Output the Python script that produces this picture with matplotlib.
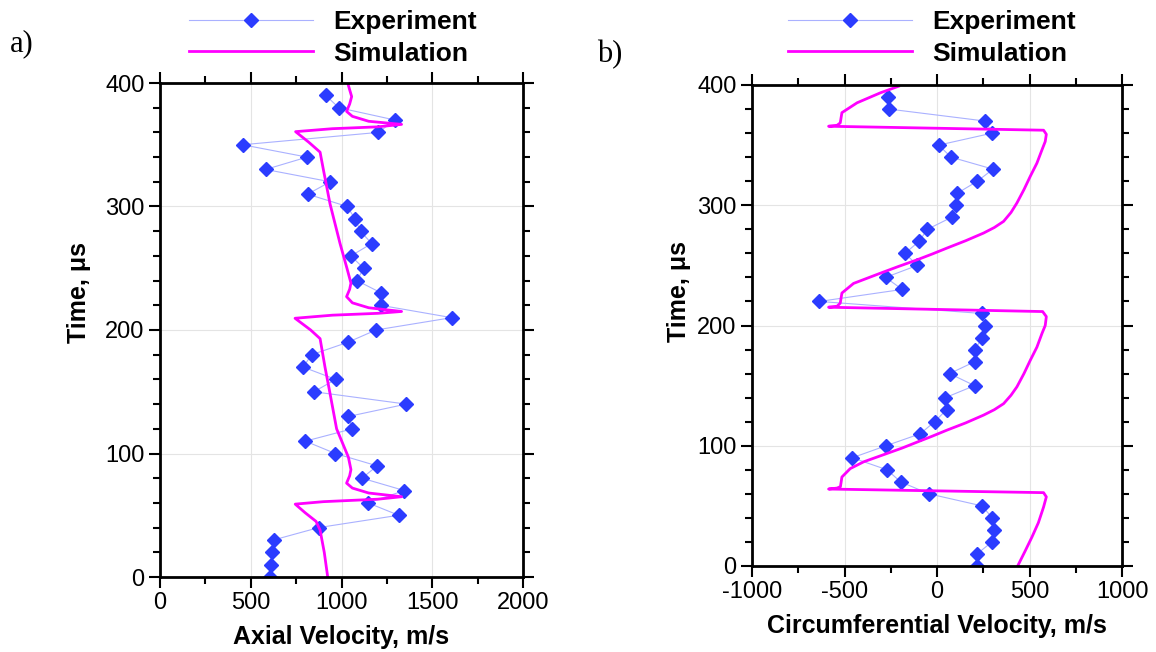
import matplotlib
matplotlib.use('Agg')
import matplotlib.pyplot as plt
from matplotlib.ticker import MultipleLocator

plt.rcParams['font.family'] = ['Liberation Sans', 'DejaVu Sans']
plt.rcParams['axes.unicode_minus'] = False

# experiment: time (us) and velocities (m/s)
exp_time = [0, 10, 20, 30, 40, 50, 60, 70, 80, 90,
            100, 110, 120, 130, 140, 150, 160, 170, 180, 190,
            200, 210, 220, 230, 240, 250, 260, 270, 280, 290,
            300, 310, 320, 330, 340, 350, 360, 370, 380, 390]
exp_axial = [608, 612, 619, 626, 874, 1315, 1146, 1346, 1113, 1196,
             966, 801, 1060, 1038, 1357, 848, 968, 788, 836, 1034,
             1190, 1607, 1216, 1219, 1085, 1122, 1052, 1166, 1105, 1074,
             1032, 813, 938, 582, 810, 455, 1203, 1295, 985, 913]
exp_circ = [214, 216, 297, 310, 299, 243, -43, -197, -270, -458,
            -276, -90, -13, 52, 45, 203, 68, 205, 205, 245,
            257, 243, -636, -188, -278, -106, -173, -97, -52, 79,
            104, 110, 218, 303, 76, 9, 299, 261, -261, -264]

# simulation, axial
sim_a_time = [0, 20, 38, 45, 52, 59, 61, 63, 65, 68, 72, 76, 82, 87, 97,
              120, 150, 170, 193, 200, 209.5, 212, 213.5, 215, 218, 222,
              227, 233, 238, 250, 270, 302, 330, 344, 352, 360.6, 363,
              364.5, 366.5, 369, 373, 377, 383, 389, 398, 400]
sim_a_vel = [924, 905, 882, 860, 800, 745, 900, 1200, 1331, 1150, 1060,
             1028, 1045, 1052, 1038, 973, 935, 909, 882, 830, 744, 950,
             1200, 1331, 1150, 1060, 1028, 1045, 1052, 1030, 992, 937,
             900, 882, 820, 747, 950, 1200, 1331, 1150, 1060, 1028, 1045,
             1056, 1038, 1035]

# simulation, circumferential
sim_c_time = [0, 12, 24, 36, 49, 57.5, 61, 64, 64.8, 66, 74, 81, 86.6,
              93.6, 98, 103, 108, 113, 119, 125.5, 130, 135, 142, 149,
              160, 171, 182, 193.6, 200, 207.4, 211.6,
              215.2, 216, 218.6, 227, 235, 243.5, 249, 254.6, 259.5, 264.4,
              270.5, 276.9, 281.5, 286.6, 294, 301.9, 313, 324, 335, 346.3,
              353, 359, 362.4, 365.7, 366.5, 368.5, 377, 385.2, 393.5, 399]
sim_c_vel = [436, 475, 513, 548, 576, 591, 576, -586, -540, -522, -514,
             -469, -397, -270, -190, -108, -25, 54, 155, 252, 310, 360,
             400, 432, 470, 504, 540, 568, 585, 591, 571,
             -586, -540, -523, -514, -451, -306, -210, -108, -25, 54,
             155, 252, 310, 360, 400, 432, 470, 504, 540, 568,
             585, 591, 576, -586, -540, -523, -514, -432, -306, -207]

W, H = 1156, 652
fig = plt.figure(figsize=(W / 100, H / 100), dpi=100)

ax1 = fig.add_axes([160 / W, 1 - 577 / H, 363 / W, 494 / H])
ax2 = fig.add_axes([752 / W, 1 - 566 / H, 370 / W, 481 / H])

exp_style = dict(color='#aab1ff', lw=0.8, marker='D', ms=7,
                 mfc='#2b3cff', mec='#2b3cff')
sim_style = dict(color='#ff00ff', lw=2.0)

for ax, ev, st, sv in [(ax1, exp_axial, sim_a_time, sim_a_vel),
                       (ax2, exp_circ, sim_c_time, sim_c_vel)]:
    ax.plot(ev, exp_time, label='Experiment', **exp_style)
    ax.plot(sv, st, label='Simulation', **sim_style)
    ax.set_ylim(0, 400)
    ax.yaxis.set_major_locator(MultipleLocator(100))
    ax.yaxis.set_minor_locator(MultipleLocator(20))
    ax.xaxis.set_major_locator(MultipleLocator(500))
    ax.xaxis.set_minor_locator(MultipleLocator(250))
    ax.grid(True, which='major', color='#e4e4e4', lw=0.8)
    ax.set_axisbelow(True)
    ax.tick_params(which='both', direction='out', top=True, right=True,
                   width=1.5, labelsize=17, pad=3)
    ax.tick_params(which='major', length=8)
    ax.tick_params(which='minor', length=5)
    for s in ax.spines.values():
        s.set_linewidth(2)
    ax.set_ylabel('Time, μs', fontsize=18, fontweight='bold')

ax1.set_xlim(0, 2000)
ax2.set_xlim(-1000, 1000)
ax1.set_xlabel('Axial Velocity, m/s', fontsize=18, fontweight='bold', labelpad=8)
ax2.set_xlabel('Circumferential Velocity, m/s', fontsize=18, fontweight='bold', labelpad=8)
ax1.yaxis.set_label_coords(-0.19, 0.575)
ax2.yaxis.set_label_coords(-0.165, 0.57)

for ax, x0 in [(ax1, 176), (ax2, 775)]:
    h, l = ax.get_legend_handles_labels()
    fig.legend(h, l, loc='upper left', bbox_to_anchor=(x0 / W, 1 + 3 / H),
               frameon=False, borderpad=0, handlelength=4.7,
               handletextpad=0.75, labelspacing=0.28, numpoints=1,
               prop={'weight': 'bold', 'size': 19})

fig.text(10 / W, 1 - 44 / H, 'a)', family='Liberation Serif', fontsize=22,
         va='center', ha='left')
fig.text(597 / W, 1 - 55 / H, 'b)', family='Liberation Serif', fontsize=22,
         va='center', ha='left')

plt.savefig('out.png', dpi=100)
